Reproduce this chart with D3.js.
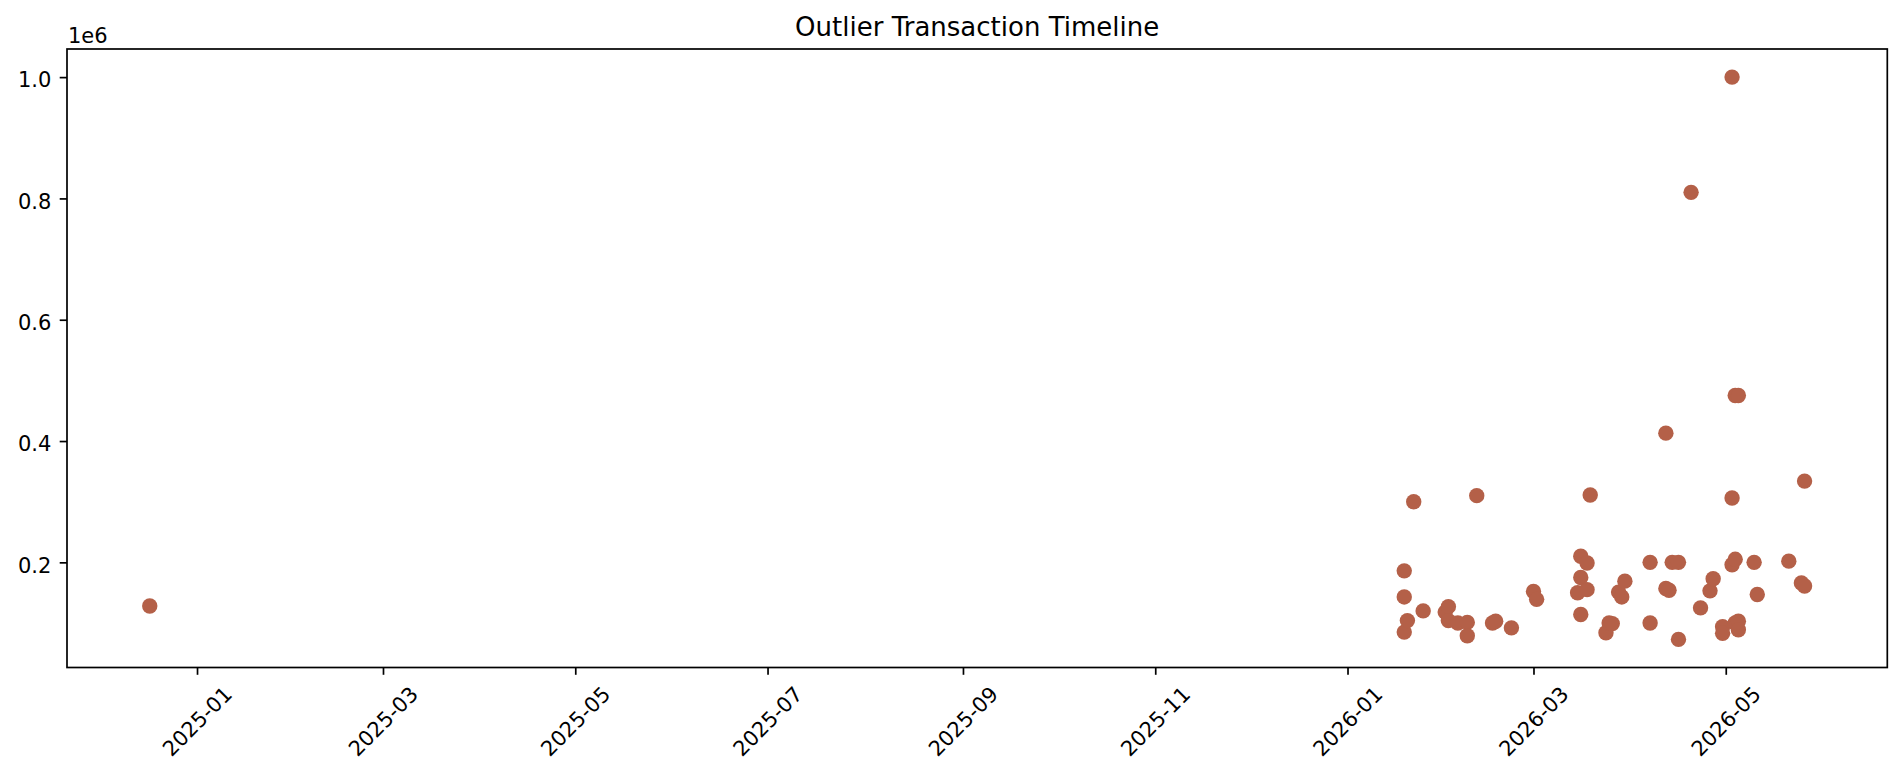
<!DOCTYPE html>
<html><head><meta charset="utf-8">
<script src="https://cdn.jsdelivr.net/npm/d3@7"></script>
<style>
body{margin:0;background:#fff}
text{font-family:"DejaVu Sans",sans-serif;fill:#000}
</style>
</head><body>
<svg id="c" width="1904" height="780"></svg>
<script>
// ---- data ----
const dates = [
 "2024-12-17",
 "2026-01-19","2026-01-19","2026-01-19","2026-01-20","2026-01-22","2026-01-25",
 "2026-02-01","2026-02-02","2026-02-02","2026-02-05","2026-02-08","2026-02-08",
 "2026-02-11","2026-02-16","2026-02-17","2026-02-22",
 "2026-03-01","2026-03-02","2026-03-15","2026-03-16","2026-03-16","2026-03-16",
 "2026-03-18","2026-03-18","2026-03-19","2026-03-24","2026-03-25","2026-03-26",
 "2026-03-28","2026-03-29","2026-03-30",
 "2026-04-07","2026-04-07","2026-04-12","2026-04-12","2026-04-13","2026-04-14",
 "2026-04-16","2026-04-16","2026-04-20","2026-04-23","2026-04-26","2026-04-27",
 "2026-04-30","2026-04-30",
 "2026-05-03","2026-05-03","2026-05-03","2026-05-04","2026-05-04","2026-05-05",
 "2026-05-04","2026-05-05","2026-05-05","2026-05-10","2026-05-11","2026-05-21",
 "2026-05-25","2026-05-26","2026-05-26"
];
const amounts = [
 128000,
 186000,143000,85000,104000,300000,120000,
 118000,127000,104000,100000,101000,79000,
 310000,100000,103000,92000,
 152000,139000,150000,210000,175000,114000,
 199000,155000,311000,84000,100000,99000,
 151000,143000,169000,
 200000,100000,413000,157000,154000,200000,
 200000,73000,810000,125000,153000,173000,
 94000,83000,
 1000000,306000,196000,205000,475000,475000,
 100000,103000,89000,200000,147000,202000,
 166000,161000,334000
];
const xTickDates = ["2025-01-01","2025-03-01","2025-05-01","2025-07-01","2025-09-01",
                    "2025-11-01","2026-01-01","2026-03-01","2026-05-01"];
const yTicks = [200000,400000,600000,800000,1000000];
const titleText = "Outlier Transaction Timeline";
const offsetText = "1e6";

// ---- layout ----
const L = 67, R = 1887.3, T = 49, B = 667.5;
const dotColor = "#b46048";
const parse = d3.utcParse("%Y-%m-%d");
const pts = dates.map((d,i)=>({t:parse(d), v:amounts[i]}));

const tExt = d3.extent(pts, d=>+d.t);
const tPad = (tExt[1]-tExt[0])*0.05;
const x = d3.scaleUtc().domain([new Date(tExt[0]-tPad), new Date(tExt[1]+tPad)]).range([L,R]);
const vExt = d3.extent(pts, d=>d.v);
const vPad = (vExt[1]-vExt[0])*0.05;
const y = d3.scaleLinear().domain([vExt[0]-vPad, vExt[1]+vPad]).range([B,T]);

const svg = d3.select("#c");
svg.append("rect").attr("width",1904).attr("height",780).attr("fill","#fff");

// points
svg.append("g").selectAll("circle").data(pts).join("circle")
  .attr("cx", d=>x(d.t)).attr("cy", d=>y(d.v)).attr("r", 7.7)
  .attr("fill", dotColor);

// x axis
const xa = svg.append("g").attr("transform",`translate(0,${B})`)
  .call(d3.axisBottom(x).tickValues(xTickDates.map(parse))
        .tickFormat(d3.utcFormat("%Y-%m")).tickSize(7.3).tickPadding(7));
xa.select(".domain").remove();
xa.selectAll(".tick line").attr("stroke","#000").attr("stroke-width",1.7);
xa.selectAll(".tick text").each(function(){
  const t = d3.select(this);
  t.attr("font-size",21).attr("y",0).attr("dy",null).attr("text-anchor","middle");
  const bb = this.getBBox();
  const w = bb.width, h = bb.height;
  const half = (w+h)*Math.SQRT1_2/2;
  const cy = 7.3 + 7.3 + half;
  const off = bb.y + bb.height/2;
  t.attr("transform",`translate(0,${cy}) rotate(-45) translate(0,${-off})`);
});

// y axis
const ya = svg.append("g").attr("transform",`translate(${L},0)`)
  .call(d3.axisLeft(y).tickValues(yTicks).tickFormat(d=>(d/1e6).toFixed(1))
        .tickSize(7.3).tickPadding(8.3));
ya.select(".domain").remove();
ya.selectAll(".tick line").attr("stroke","#000").attr("stroke-width",1.7);
ya.selectAll(".tick text").attr("font-size",21).attr("dy","0.47em");

// spines
svg.append("rect").attr("x",L).attr("y",T).attr("width",R-L).attr("height",B-T)
  .attr("fill","none").attr("stroke","#000").attr("stroke-width",1.7);

// offset text & title
svg.append("text").attr("x",L+1).attr("y",43).attr("font-size",21).text(offsetText);
svg.append("text").attr("x",(L+R)/2).attr("y",36).attr("text-anchor","middle")
  .attr("font-size",26).text(titleText);
</script>
</body></html>
